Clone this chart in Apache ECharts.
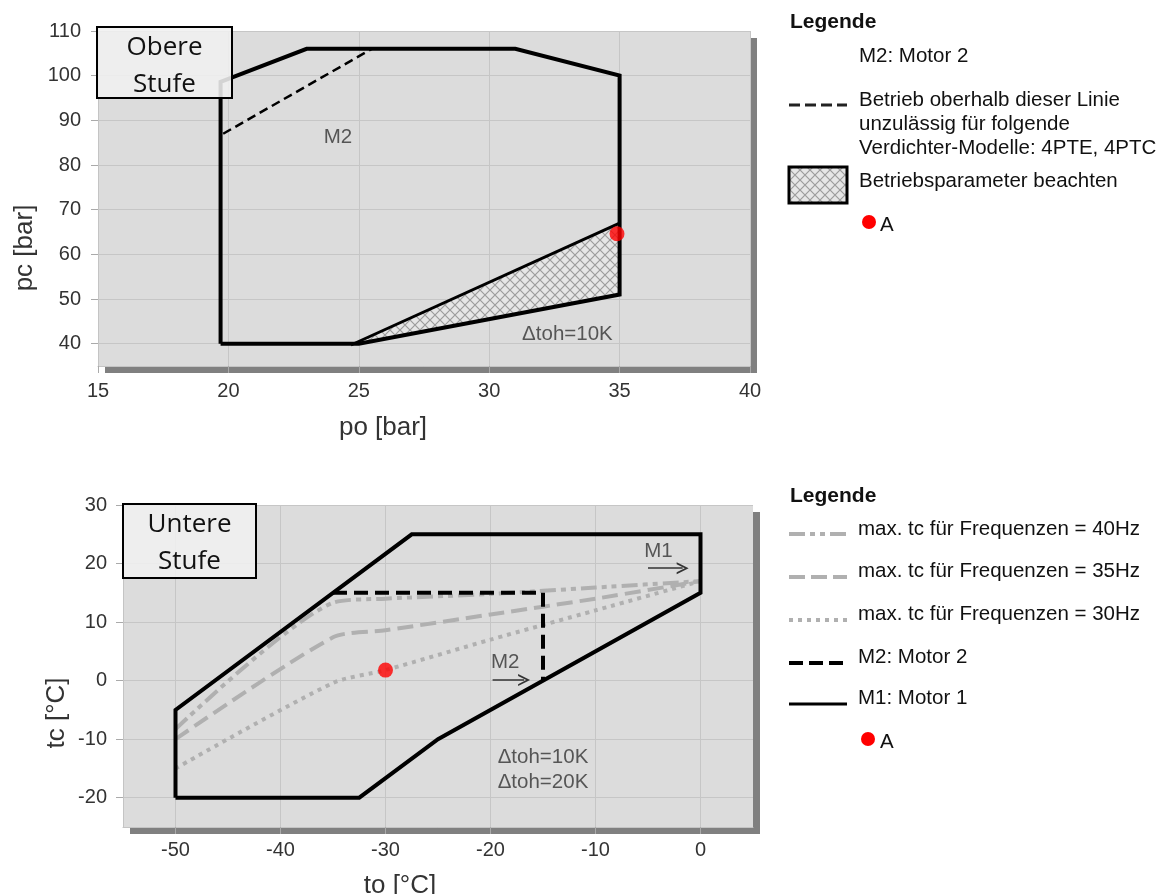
<!DOCTYPE html>
<html>
<head>
<meta charset="utf-8">
<script src="https://cdn.jsdelivr.net/npm/echarts@6/dist/echarts.min.js"></script>
<style>
html, body { margin: 0; padding: 0; background: #fff; }
#chart { width: 1175px; height: 894px; }
</style>
</head>
<body>
<div id="chart"></div>
<script>
// Obere Stufe: po [bar] / pc [bar]
const obereHuelle = [[19.7, 40], [19.7, 98.6], [23, 106], [31, 106], [35, 100], [35, 51], [25, 40], [19.7, 40]];
const obereGrenze = [[19.8, 87], [25.5, 106]];
const obereSchraffur = [[24.7, 39.7], [35, 67], [35, 51]];
const obereSchraffurKante = [[24.7, 39.7], [35, 67]];
const obereA = [[34.9, 64.6]];
const obereTexte = [
    { value: [24.2, 86.3], name: "M2" },
    { value: [33, 42], name: "Δtoh=10K" }
];
const obereXTicks = [15, 20, 25, 30, 35, 40];
const obereYTicks = [40, 50, 60, 70, 80, 90, 100, 110];

// Untere Stufe: to [°C] / tc [°C]
const untereM1 = [[-50, -20], [-50, -5], [-35, 15], [-27.5, 25], [0, 25], [0, 15], [-25, -10], [-32.5, -20], [-50, -20]];
const untereM2 = [[-35, 15], [-15, 15], [-15, 0]];
const tc40Hz = [[-50, -8.3], [-35, 13.3], [-30, 14], [-20, 14.8], [-10, 15.9], [0, 17]];
const tc35Hz = [[-50, -10], [-35, 7.4], [-30, 8.6], [-20, 11.3], [-10, 14], [0, 17]];
const tc30Hz = [[-50, -15], [-35, -0.4], [-30, 1.8], [-20, 7], [-10, 12], [0, 17]];
const untereA = [[-30, 1.8]];
const untereTexte = [
    { value: [-4, 22.1], name: "M1" },
    { value: [-18.6, 3.2], name: "M2" },
    { value: [-15, -15.2], name: "Δtoh=10K\nΔtoh=20K" }
];
const unterePfeile = [
    [[-5, 19.2], [-1.7, 19.2]],
    [[-19.8, 0.1], [-16.8, 0.1]]
];
const untereXTicks = [-50, -40, -30, -20, -10, 0];
const untereYTicks = [-20, -10, 0, 10, 20, 30];

const FONT = "Liberation Sans, Arial, sans-serif";
const GRAU = "#b0b0b0";
const LEG = 20.5;

// Schraffur-Muster (Kreuzschraffur)
function musterCanvas() {
    const c = document.createElement("canvas");
    c.width = 10;
    c.height = 10;
    const g = c.getContext("2d");
    g.fillStyle = "#e6e6e6";
    g.fillRect(0, 0, 10, 10);
    g.strokeStyle = "#9c9c9c";
    g.lineWidth = 1.2;
    g.beginPath();
    g.moveTo(-1, -1); g.lineTo(11, 11);
    g.moveTo(11, -1); g.lineTo(-1, 11);
    g.stroke();
    return c;
}
const muster = { image: musterCanvas(), repeat: "repeat" };

function achse(min, max, ticks, margin, gridIndex) {
    return {
        type: "value", gridIndex, min, max,
        axisLine: { show: true, onZero: false, lineStyle: { color: "#c4c4c4" } },
        axisTick: { show: true, length: 7, customValues: ticks, lineStyle: { color: "#aaa" } },
        axisLabel: { customValues: ticks, margin, color: "#333", fontSize: 20, fontFamily: FONT },
        splitLine: { show: true, lineStyle: { color: "#c6c6c6", width: 1 } }
    };
}

function linie(data, ax, style) {
    return {
        type: "line", xAxisIndex: ax, yAxisIndex: ax, data,
        symbol: "none", silent: true, z: style.z || 3,
        smooth: style.smooth || false,
        lineStyle: { color: style.color, width: style.width, type: style.type || "solid", cap: "butt", join: "miter" }
    };
}

function texte(data, ax) {
    return {
        type: "scatter", xAxisIndex: ax, yAxisIndex: ax, data, symbolSize: 0, silent: true, z: 6,
        label: {
            show: true, position: "inside", formatter: p => p.name,
            color: "#333", fontSize: 20.5, fontFamily: FONT, lineHeight: 25, align: "center", verticalAlign: "middle"
        }
    };
}

function punkt(data, ax) {
    return {
        type: "scatter", xAxisIndex: ax, yAxisIndex: ax, data, symbolSize: 15, z: 7, silent: true,
        itemStyle: { color: "#ff0000" }
    };
}

const pfeilSymbol = "path://M0,10 L5,0 L10,10 L8.4,10 L5,3.2 L1.6,10 Z";

function legText(x, y, text, bold) {
    return {
        type: "text", x, y, z: 100,
        style: { text, fill: "#111", fontSize: bold ? 21 : LEG, fontWeight: bold ? "bold" : "normal",
                 lineHeight: 24, fontFamily: FONT, verticalAlign: "middle" }
    };
}
function legLinie(y, color, width, dash) {
    return {
        type: "line", z: 100,
        shape: { x1: 789, y1: y, x2: 847, y2: y },
        style: { stroke: color, lineWidth: width, lineDash: dash || null }
    };
}
function titelBox(x, y, w, h, text, cy) {
    return [
        { type: "rect", z: 100, shape: { x, y, width: w, height: h },
          style: { fill: "rgba(240,240,240,0.88)", stroke: "#000", lineWidth: 2 } },
        { type: "text", z: 101, x: x + w / 2, y: cy,
          style: { text, fill: "#111", fontSize: 26, lineHeight: 37, fontFamily: "Open Sans, Noto Sans, sans-serif",
                   align: "center", verticalAlign: "middle" } }
    ];
}
function achsName(x, y, text, rot) {
    return {
        type: "text", z: 100, x, y, rotation: rot ? Math.PI / 2 : 0,
        style: { text, fill: "#333", fontSize: 26, fontFamily: FONT, align: "center", verticalAlign: "middle" }
    };
}

const chart = echarts.init(document.getElementById("chart"), null, { renderer: "canvas" });

const option = {
    animation: false,
    backgroundColor: "#fff",
    grid: [
        { left: 98, top: 31, width: 652, height: 335, show: true, backgroundColor: "#dcdcdc", borderWidth: 0,
          shadowColor: "#808080", shadowOffsetX: 7, shadowOffsetY: 7, shadowBlur: 0 },
        { left: 123, top: 505, width: 630, height: 322, show: true, backgroundColor: "#dcdcdc", borderWidth: 0,
          shadowColor: "#808080", shadowOffsetX: 7, shadowOffsetY: 7, shadowBlur: 0 }
    ],
    xAxis: [achse(15, 40, obereXTicks, 15, 0), achse(-55, 5, untereXTicks, 13, 1)],
    yAxis: [achse(35, 110, obereYTicks, 17, 0), achse(-25, 30, untereYTicks, 16, 1)],
    series: [
        // obere Stufe
        {
            type: "custom", xAxisIndex: 0, yAxisIndex: 0, silent: true, z: 2,
            data: [obereSchraffur[0]],
            renderItem: (params, api) => ({
                type: "polygon",
                shape: { points: obereSchraffur.map(p => api.coord(p)) },
                style: { fill: muster, stroke: null }
            })
        },
        linie(obereSchraffurKante, 0, { color: "#000", width: 3 }),
        linie(obereGrenze, 0, { color: "#000", width: 2.5, type: [9, 5] }),
        linie(obereHuelle, 0, { color: "#000", width: 4 }),
        punkt(obereA, 0),
        texte(obereTexte, 0),
        // untere Stufe
        linie(tc40Hz, 1, { color: GRAU, width: 4, type: [16, 5, 5, 5, 5, 5], smooth: 0.25 }),
        linie(tc35Hz, 1, { color: GRAU, width: 4, type: [16, 7], smooth: 0.25 }),
        linie(tc30Hz, 1, { color: GRAU, width: 4, type: [4, 5], smooth: 0.25 }),
        linie(untereM2, 1, { color: "#000", width: 4, type: [14, 7] }),
        linie(untereM1, 1, { color: "#000", width: 4 }),
        punkt(untereA, 1),
        texte(untereTexte, 1),
        {
            type: "line", xAxisIndex: 1, yAxisIndex: 1, data: [], silent: true, z: 6,
            markLine: {
                silent: true, animation: false,
                symbol: ["none", pfeilSymbol], symbolSize: 12,
                label: { show: false },
                lineStyle: { color: "#333", width: 1.5, type: "solid" },
                data: unterePfeile.map(p => [{ coord: p[0] }, { coord: p[1] }])
            }
        }
    ],
    graphic: [
        // Titel
        ...titelBox(97, 27, 135, 71, "Obere\nStufe", 66),
        ...titelBox(123, 504, 133, 74, "Untere\nStufe", 543),
        // Achsennamen
        achsName(25, 248, "pc [bar]", true),
        achsName(383, 428, "po [bar]"),
        achsName(57, 713, "tc [°C]", true),
        achsName(400, 886, "to [°C]"),
        // Legende oben
        legText(790, 22, "Legende", true),
        legText(859, 56, "M2: Motor 2"),
        legLinie(105, "#222", 3, [11, 5]),
        legText(859, 124, "Betrieb oberhalb dieser Linie\nunzulässig für folgende\nVerdichter-Modelle: 4PTE, 4PTC"),
        { type: "rect", z: 100, shape: { x: 789, y: 167, width: 58, height: 36 },
          style: { fill: muster, stroke: "#000", lineWidth: 3 } },
        legText(859, 181, "Betriebsparameter beachten"),
        { type: "circle", z: 100, shape: { cx: 869, cy: 222, r: 7 }, style: { fill: "#ff0000" } },
        legText(880, 225, "A"),
        // Legende unten
        legText(790, 496, "Legende", true),
        legLinie(534, GRAU, 4, [16, 5, 5, 5, 5, 5]),
        legText(858, 529, "max. tc für Frequenzen = 40Hz"),
        legLinie(577, GRAU, 4, [16, 6]),
        legText(858, 571, "max. tc für Frequenzen = 35Hz"),
        legLinie(620, GRAU, 4, [4, 5]),
        legText(858, 614, "max. tc für Frequenzen = 30Hz"),
        legLinie(663, "#000", 4, [14, 6]),
        legText(858, 657, "M2: Motor 2"),
        legLinie(704, "#000", 3),
        legText(858, 698, "M1: Motor 1"),
        { type: "circle", z: 100, shape: { cx: 868, cy: 739, r: 7 }, style: { fill: "#ff0000" } },
        legText(880, 742, "A")
    ]
};

chart.setOption(option);
</script>
</body>
</html>
